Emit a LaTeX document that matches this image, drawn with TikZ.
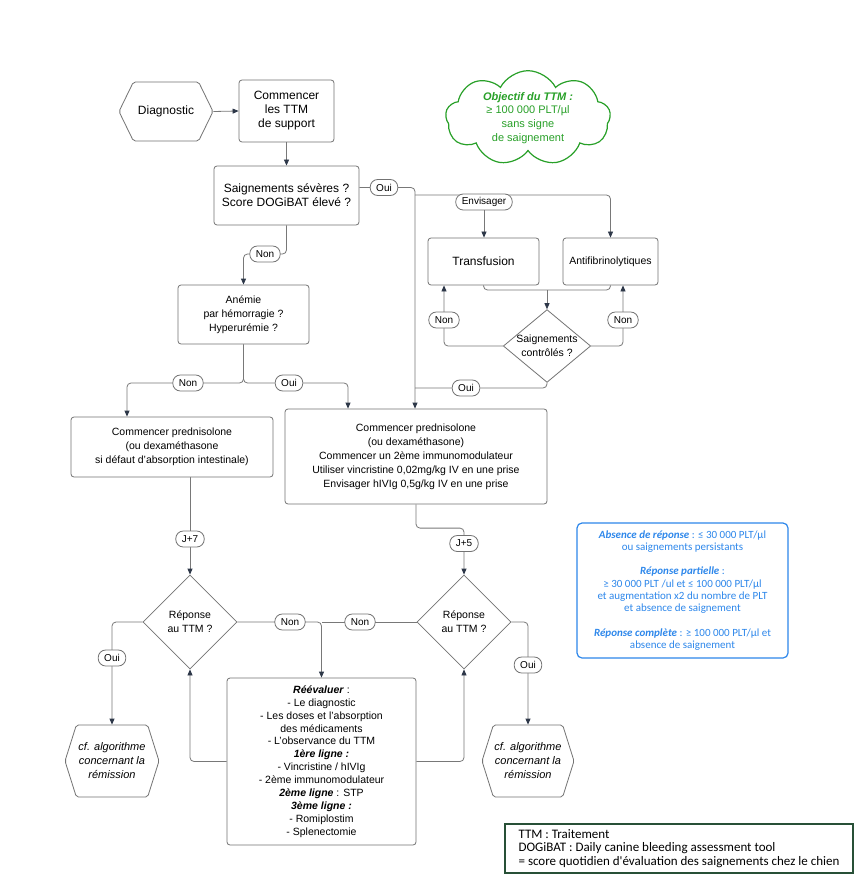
\documentclass[tikz,border=0pt]{standalone}
\usepackage{fontspec}
\setmainfont{Liberation Sans}
\newfontfamily\calibfont{Carlito}
\usetikzlibrary{positioning,shapes.geometric,shapes.symbols,arrows.meta,backgrounds}
\definecolor{linegray}{RGB}{120,120,120}
\definecolor{boxgray}{RGB}{115,115,115}
\definecolor{tipdark}{RGB}{45,55,72}
\definecolor{cloudgreen}{RGB}{40,160,40}
\definecolor{critblue}{RGB}{45,135,235}
\definecolor{legendgreen}{RGB}{40,80,55}
\begin{document}
\begin{tikzpicture}[x=1pt,y=-1pt,
  tbox/.style={draw=boxgray,line width=0.8pt,rounded corners=3pt,fill=white,align=center,inner sep=2pt,font=\fontsize{10.5}{14}\selectfont},
  bigfont/.style={font=\fontsize{12}{14}\selectfont},
  decision/.style={diamond,draw=boxgray,line width=0.8pt,fill=white,align=center,inner sep=0pt,font=\fontsize{10.5}{14}\selectfont},
  hexa/.style={signal,signal to=east and west,draw=boxgray,line width=0.8pt,fill=white,align=center,inner sep=0pt,rounded corners=2pt},
  pill/.style={draw=boxgray,line width=0.8pt,fill=white,rounded corners=7.5pt,inner xsep=6pt,inner ysep=2pt,minimum height=16pt,font=\fontsize{10}{12}\selectfont},
  conn/.style={draw=linegray,line width=0.8pt,rounded corners=4pt},
  arr/.style={conn,-{Triangle[length=6pt,width=5pt,color=tipdark]}}]
\useasboundingbox (0,0) rectangle (860,877);

% main column
\node[hexa,bigfont,signal pointer angle=128,minimum width=94pt,minimum height=59pt] (diag) at (166,111.5) {Diagnostic};
\node[tbox,bigfont,minimum width=95pt,minimum height=62pt] (supp) at (286.5,111) {Commencer\\les TTM\\de support};
\node[tbox,bigfont,minimum width=145pt,minimum height=59pt] (sev) at (286.5,195.5) {Saignements sévères ?\\Score DOGiBAT élevé ?};
\node[tbox,minimum width=131pt,minimum height=59pt] (anem) at (243.5,314.5) {Anémie\\par hémorragie ?\\Hyperurémie ?};
\node[tbox,minimum width=202pt,minimum height=60pt] (pred) at (172,447) {Commencer prednisolone\\(ou dexaméthasone\\si défaut d'absorption intestinale)};
\node[tbox,minimum width=262pt,minimum height=95pt] (immu) at (416,456.5) {Commencer prednisolone\\(ou dexaméthasone)\\Commencer un 2ème immunomodulateur\\Utiliser vincristine 0,02mg/kg IV en une prise\\Envisager hIVIg 0,5g/kg IV en une prise};

% bleeding control
\node[cloud,cloud puffs=9,cloud puff arc=125,cloud ignores aspect,draw=cloudgreen,line width=1.2pt,fill=white,text=cloudgreen,align=center,inner sep=0pt,minimum width=165pt,minimum height=93pt,font=\fontsize{11}{13.7}\selectfont] (obj) at (528,118) {\textbf{\textit{Objectif du TTM :}}\\≥ 100 000 PLT/µl\\sans signe\\de saignement};
\node[tbox,bigfont,minimum width=111pt,minimum height=47pt] (trans) at (483.5,261.5) {Transfusion};
\node[tbox,minimum width=95pt,minimum height=47pt] (anti) at (610.5,261.5) {Antifibrinolytiques};
\node[decision,aspect=1.2] (ctrl) at (547,346) {Saignements\\contrôlés ?};

% response
\node[decision,minimum width=94pt,minimum height=94pt] (rep1) at (190,622) {Réponse\\au TTM ?};
\node[decision,minimum width=94pt,minimum height=94pt] (rep2) at (464,622) {Réponse\\au TTM ?};
\node[tbox,minimum width=189pt,minimum height=167pt,font=\fontsize{10.5}{12.9}\selectfont] (reev) at (321.5,761.5) {\textbf{\textit{Réévaluer}} :\\- Le diagnostic\\- Les doses et l'absorption\\des médicaments\\- L'observance du TTM\\\textbf{\textit{1ère ligne :}}\\- Vincristine / hIVIg\\- 2ème immunomodulateur\\\textbf{\textit{2ème ligne}} : STP\\\textbf{\textit{3ème ligne :}}\\- Romiplostim\\- Splenectomie};
\node[hexa,signal pointer angle=145,minimum width=94pt,minimum height=72pt,font=\itshape\fontsize{11}{14}\selectfont] (rem1) at (112,761) {cf. algorithme\\concernant la\\rémission};
\node[hexa,signal pointer angle=145,minimum width=92pt,minimum height=72pt,font=\itshape\fontsize{11}{14}\selectfont] (rem2) at (528,761) {cf. algorithme\\concernant la\\rémission};
\node[draw=critblue,line width=1.2pt,rounded corners=5pt,text=critblue,align=center,minimum width=211pt,minimum height=135pt,font=\calibfont\fontsize{11}{12.3}\selectfont] (crit) at (682.5,590.5) {\textbf{\textit{Absence de réponse}} : ≤ 30 000 PLT/µl\\ou saignements persistants\\[12.3pt]\textbf{\textit{Réponse partielle}} :\\≥ 30 000 PLT /ul et ≤ 100 000 PLT/µl\\et augmentation x2 du nombre de PLT\\et absence de saignement\\[12.3pt]\textbf{\textit{Réponse complète}} : ≥ 100 000 PLT/µl et\\absence de saignement};
\node[draw=legendgreen,line width=1.3pt,align=left,minimum width=348pt,minimum height=49pt,font=\calibfont\fontsize{13}{13.4}\selectfont] (legend) at (679,848.5) {TTM : Traitement\\DOGiBAT : Daily canine bleeding assessment tool\\= score quotidien d'évaluation des saignements chez le chien};

% labels on the connectors
\coordinate (trunk) at (415,195);
\coordinate (merge) at (547,290);
\node[pill] (oui1) at (384,187.5) {Oui};
\node[pill] (env) at (484,202) {Envisager};
\node[pill] (non1) at (265,254) {Non};
\node[pill] (nonL) at (444,320) {Non};
\node[pill] (nonR) at (623,320) {Non};
\node[pill] (oui2) at (466,388) {Oui};
\node[pill] (non2) at (188,383) {Non};
\node[pill] (oui3) at (289,383) {Oui};
\node[pill] (j7) at (190,539) {J+7};
\node[pill] (j5) at (464,543.5) {J+5};
\node[pill] (non3) at (290,622) {Non};
\node[pill] (non4) at (360,622) {Non};
\node[pill] (oui4) at (112,658) {Oui};
\node[pill] (oui5) at (528,665) {Oui};

\begin{scope}[on background layer]
  \fill[white] (0,0) rectangle (860,877);
  \draw[arr] (diag.east) -- (supp.west);
  \draw[arr] (supp) -- (sev);
  \draw[arr] (sev.east |- oui1) -- (oui1) -| (immu.north -| trunk);
  \draw[arr] (trunk) -| (anti.north);
  \draw[arr] (env) -- (env |- trans.north);
  \draw[conn] (trans.south) |- (merge) -| (anti.south);
  \draw[arr] (merge) -- (ctrl.north);
  \draw[arr] (ctrl.west) -| (trans.south -| nonL);
  \draw[arr] (ctrl.east) -| (anti.south -| nonR);
  \draw[conn] (ctrl.south) |- (trunk |- oui2);
  \draw[arr] (sev.south) |- (non1) -| (anem.north);
  \draw[arr] (anem.south) |- (non2) -| ([xshift=-45pt]pred.north);
  \draw[arr] (anem.south) |- (oui3) -| ([xshift=-68pt]immu.north);
  \draw[arr] (j7 |- pred.south) -- (rep1.north);
  \draw[arr] (immu.south) |- ([yshift=7pt]j5.north) -- (rep2.north);
  \draw[arr] (rep1.east) -| (reev.north);
  \draw[conn] (rep2.west) -- (reev.north |- rep2.west);
  \draw[arr] (rep1.west) -| (rem1.north);
  \draw[arr] (rep2.east) -| (rem2.north);
  \draw[arr] (reev.west) -| (rep1.south);
  \draw[arr] (reev.east) -| (rep2.south);
\end{scope}
\end{tikzpicture}
\end{document}
